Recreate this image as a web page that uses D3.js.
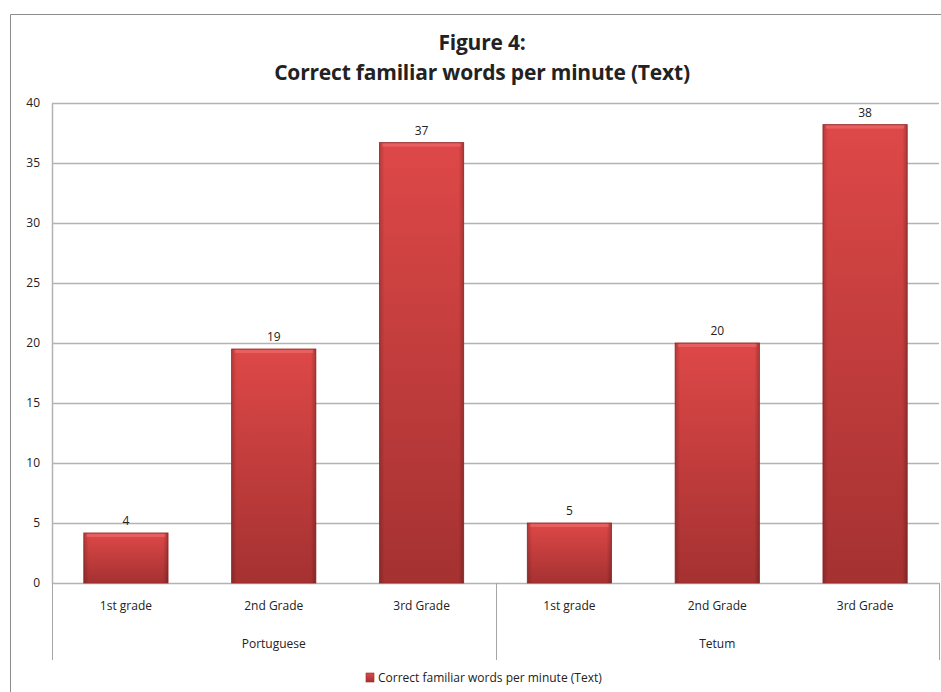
<!DOCTYPE html>
<html><head><meta charset="utf-8">
<script src="https://cdn.jsdelivr.net/npm/d3@7"></script>
<style>
body{margin:0;background:#fff;}
text{font-family:"Open Sans","Liberation Sans",sans-serif;fill:#222;}
</style></head>
<body>
<svg id="chart" width="941" height="692"></svg>
<script>
const titleLines = ["Figure 4:", "Correct familiar words per minute (Text)"];
const groups = ["Portuguese", "Tetum"];
const grades = ["1st grade", "2nd Grade", "3rd Grade"];
const portugueseValues = [4.17, 19.5, 36.7];
const tetumValues = [5.0, 20.0, 38.2];
const valueLabels = [["4", "19", "37"], ["5", "20", "38"]];
const yTicks = [0, 5, 10, 15, 20, 25, 30, 35, 40];
const seriesName = "Correct familiar words per minute (Text)";

const data = [];
[portugueseValues, tetumValues].forEach((vals, gi) => {
  vals.forEach((v, i) => data.push({group: groups[gi], grade: grades[i], key: groups[gi] + "|" + grades[i], value: v, label: valueLabels[gi][i]}));
});

const svg = d3.select("#chart");
const pLeft = 52, pRight = 939, pTop = 103, pBottom = 583;

// outer chart border
svg.append("path").attr("d", `M10.5,692 V14.5 H941`).attr("fill", "none").attr("stroke", "#8c8c8c").attr("stroke-width", 1);

const defs = svg.append("defs");
const gv = defs.append("linearGradient").attr("id", "gv").attr("x1", 0).attr("y1", 0).attr("x2", 0).attr("y2", 1);
gv.append("stop").attr("offset", "0%").attr("stop-color", "#de4848");
gv.append("stop").attr("offset", "100%").attr("stop-color", "#a53131");
const gh = defs.append("linearGradient").attr("id", "gh").attr("x1", 0).attr("y1", 0).attr("x2", 1).attr("y2", 0);
gh.append("stop").attr("offset", "0%").attr("stop-color", "#000").attr("stop-opacity", 0.18);
gh.append("stop").attr("offset", "6%").attr("stop-color", "#000").attr("stop-opacity", 0);
gh.append("stop").attr("offset", "94%").attr("stop-color", "#000").attr("stop-opacity", 0);
gh.append("stop").attr("offset", "100%").attr("stop-color", "#000").attr("stop-opacity", 0.22);

const y = d3.scaleLinear().domain([0, 40]).range([pBottom, pTop]);
const x = d3.scaleBand().domain(data.map(d => d.key)).range([pLeft, pRight]).paddingInner(0.43).paddingOuter(0.215);
const xg = d3.scaleBand().domain(groups).range([pLeft, pRight]);

// gridlines
svg.append("g").selectAll("line").data(yTicks).join("line")
  .attr("x1", pLeft).attr("x2", pRight)
  .attr("y1", d => Math.round(y(d)) + 0.5).attr("y2", d => Math.round(y(d)) + 0.5)
  .attr("stroke", "#b3b3b3").attr("stroke-width", 1.5);

// y axis
const yAxis = svg.append("g").attr("transform", `translate(${pLeft},0)`)
  .call(d3.axisLeft(y).tickValues(yTicks).tickSize(0).tickPadding(12));
yAxis.select(".domain").attr("stroke", "#b3b3b3").attr("stroke-width", 1.5);
yAxis.selectAll("text").attr("font-size", 12).attr("fill", "#222").style("font-family", "'Open Sans',sans-serif");

// group separators
svg.append("g").selectAll("line").data([pLeft, xg("Tetum"), pRight]).join("line")
  .attr("x1", d => Math.round(d) + 0.5).attr("x2", d => Math.round(d) + 0.5)
  .attr("y1", pBottom).attr("y2", 660).attr("stroke", "#a6a6a6").attr("stroke-width", 1);

// bars
const bars = svg.append("g");
bars.selectAll("rect.b").data(data).join("rect").attr("class", "b")
  .attr("x", d => x(d.key)).attr("width", x.bandwidth())
  .attr("y", d => y(d.value)).attr("height", d => y(0) - y(d.value))
  .attr("fill", "url(#gv)").attr("stroke", "#9a2c2c").attr("stroke-width", 0.8);
bars.selectAll("rect.s").data(data).join("rect").attr("class", "s")
  .attr("x", d => x(d.key)).attr("width", x.bandwidth())
  .attr("y", d => y(d.value)).attr("height", d => y(0) - y(d.value))
  .attr("fill", "url(#gh)");
bars.selectAll("rect.t").data(data).join("rect").attr("class", "t")
  .attr("x", d => x(d.key) + 3).attr("width", x.bandwidth() - 6)
  .attr("y", d => y(d.value) + 1).attr("height", 3)
  .attr("fill", "#f07070").attr("opacity", 0.6);

// value labels
svg.append("g").selectAll("text").data(data).join("text")
  .attr("x", d => x(d.key) + x.bandwidth() / 2).attr("y", d => y(d.value) - 8)
  .attr("text-anchor", "middle").attr("font-size", 12).text(d => d.label);

// category labels
svg.append("g").selectAll("text").data(data).join("text")
  .attr("x", d => x(d.key) + x.bandwidth() / 2).attr("y", 610)
  .attr("text-anchor", "middle").attr("font-size", 12).text(d => d.grade);
svg.append("g").selectAll("text").data(groups).join("text")
  .attr("x", d => xg(d) + xg.bandwidth() / 2).attr("y", 648)
  .attr("text-anchor", "middle").attr("font-size", 12).text(d => d);

// title
svg.append("g").selectAll("text").data(titleLines).join("text")
  .attr("x", 482).attr("y", (d, i) => 50 + i * 30)
  .attr("text-anchor", "middle").attr("font-size", 21).attr("font-weight", "bold")
  .attr("fill", "#111").style("letter-spacing", "-0.2px").text(d => d);

// legend
const lg = svg.append("g").attr("transform", "translate(366,673)");
lg.append("rect").attr("width", 8).attr("height", 9).attr("fill", "url(#gv)").attr("stroke", "#9a2c2c").attr("stroke-width", 0.6);
lg.append("text").attr("x", 12).attr("y", 9).attr("font-size", 12).text(seriesName);
</script>
</body></html>
